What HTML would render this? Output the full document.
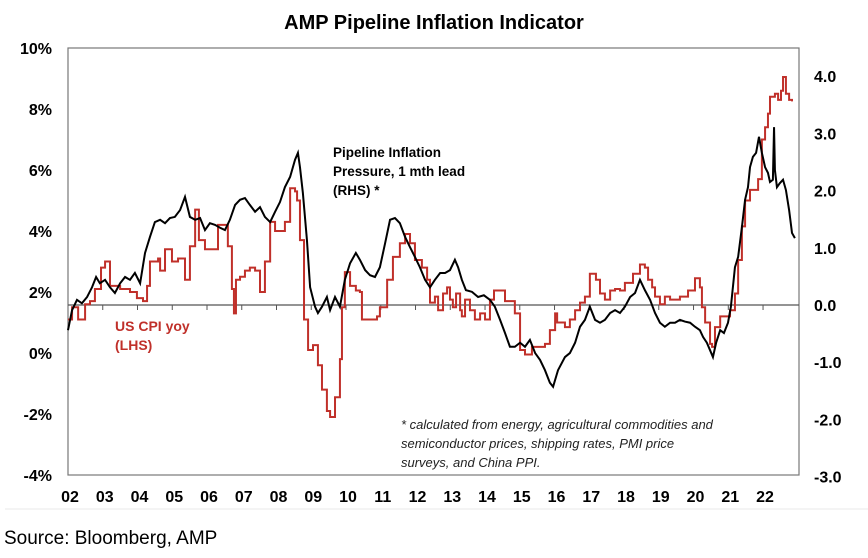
<!DOCTYPE html>
<html><head><meta charset="utf-8"><style>
body{margin:0;background:#fff;}
svg{display:block;font-family:"Liberation Sans",Arial,sans-serif;}
</style></head><body>
<svg id="chart" width="868" height="558" viewBox="0 0 868 558">
<text x="434" y="29" text-anchor="middle" font-size="20" font-weight="bold">AMP Pipeline Inflation Indicator</text>
<rect x="68" y="48" width="731" height="427" fill="none" stroke="#777" stroke-width="1.2"/>
<g id="axes"></g>
<g id="series"></g>
<text font-size="13.5" font-weight="bold"><tspan x="333" y="157">Pipeline Inflation</tspan><tspan x="333" y="176">Pressure, 1 mth lead</tspan><tspan x="333" y="195">(RHS) *</tspan></text>
<text font-size="14" font-weight="bold" fill="#c0302a"><tspan x="115" y="331">US CPI yoy</tspan><tspan x="115" y="350">(LHS)</tspan></text>
<text font-size="13" font-style="italic" fill="#222"><tspan x="401" y="429">* calculated from energy, agricultural commodities and</tspan><tspan x="401" y="448">semiconductor prices, shipping rates, PMI price</tspan><tspan x="401" y="467">surveys, and China PPI.</tspan></text>
<line x1="5" y1="509" x2="868" y2="509" stroke="#e8e8e8"/>
<text x="4" y="544" font-size="19">Source: Bloomberg, AMP</text>
</svg>
<script>
const leftTicks=[10,8,6,4,2,0,-2,-4];
const rightTicks=[4,3,2,1,0,-1,-2,-3];
const yearLabels=["02","03","04","05","06","07","08","09","10","11","12","13","14","15","16","17","18","19","20","21","22"];
// months since Jan 2002
const cpiMonths=[0,1.4,3.5,5.9,7.6,9.3,11.4,12.8,14.5,18,21.4,23.8,25.9,27.3,28.3,31.1,31.8,33.5,35.9,38,40.4,42.1,43.9,45.2,47.3,49.7,51.8,54.2,55.2,56.6,57.3,58,59.4,61.1,62.8,64.6,66.3,68,69.8,71.5,73.2,74.9,76.7,78.4,79.1,80.1,81.5,82.9,84.6,86.3,87.7,89.4,90.5,92.2,93.9,94.6,95.6,97.4,99.4,100.8,101.5,104.3,106.7,107.7,110.2,112.2,114.6,116.4,118.1,119.8,122.2,124,125,126.7,127.8,129.5,130.9,131.9,132.9,134,135.4,136,137.1,138.8,140.5,142.3,144,145.7,147.1,149.2,150.9,153.3,154.3,156.1,157.8,160.2,163,164.7,166.4,168.2,168.9,171.6,173.3,175.1,176.8,178.5,180.2,182.3,183.7,185.4,187.2,188.9,190.6,192.3,195.1,197.5,199.2,200.3,201.7,202.7,204.4,206.1,207.9,209.6,211.3,214.1,216.5,218.2,218.9,220,221.7,222.4,223.4,225.2,226.9,228.6,230.3,231.4,232.7,233.8,235.5,237.2,238.3,239.6,240.7,241.7,242.4,244.1,245.2,246.2,246.9,247.9,249,250];
const cpiValues=[1.1,1.5,1.1,1.6,1.7,2.1,2.8,3.0,2.2,2.1,2.0,1.8,1.7,2.2,3.0,3.1,2.7,3.4,3.0,3.1,2.4,3.5,4.7,3.7,3.4,3.4,4.2,4.2,3.5,2.1,1.3,2.4,2.5,2.7,2.8,2.7,2.0,3.0,4.3,4.0,4.0,4.3,5.4,5.3,5.0,3.7,1.1,0.1,0.26,-0.4,-1.2,-1.9,-2.1,-1.45,-0.2,1.5,2.65,2.2,2.05,2.0,1.1,1.1,1.2,1.5,2.4,3.15,3.6,3.9,3.6,3.05,2.8,2.4,1.65,1.85,1.4,1.95,2.15,1.75,1.5,1.95,1.4,1.2,1.75,1.4,1.1,1.3,1.1,1.75,2.05,2.05,1.7,1.7,1.3,0.1,-0.05,0.2,0.2,0.3,0.75,1.3,1.0,0.85,1.1,1.4,1.65,1.85,2.6,2.4,1.95,1.75,2.05,2.1,2.05,2.3,2.6,2.9,2.8,2.4,2.15,1.85,1.6,1.85,1.75,1.75,1.85,2.05,2.45,2.15,1.5,1.0,0.3,0.2,0.85,1.2,1.2,1.4,1.95,3.05,4.15,5.0,5.35,5.35,5.7,7.0,7.4,7.85,8.4,8.5,8.3,8.6,9.05,8.5,8.3,8.25];
const pipeMonths=[0,1.4,3.1,4.8,6.6,8.3,9.7,11,12.8,14.5,16.2,18,19.7,21.4,23.1,24.9,26.6,28.3,30,31.8,33.5,35.2,36.9,38.7,40.4,42.1,43.9,45.6,47.3,49,50.8,52.5,54.2,55.9,57.7,59.4,61.1,62.8,64.6,66.3,68,69.8,71.5,73.2,74.9,76.7,78.4,79.4,80.1,81.1,82.5,83.6,85.3,86.3,87.7,89.4,90.5,92.2,93.9,95.6,97.4,99.4,100.8,102.6,104.3,106,107.7,109.5,111.2,112.9,114.6,116.4,118.1,119.8,121.5,123.3,125,126.7,128.5,130.2,131.9,133.6,134.7,136,137.4,139.5,141.6,143.6,145.7,147.4,149.2,150.9,152.6,154.3,156.1,157.8,159.5,161.3,163,164.7,166.4,167.5,169.2,171.6,173.3,175.1,176.8,178.5,180.2,182,183.7,185.4,187.2,188.9,190.6,192.3,194.1,195.8,197.5,199.2,201,202.7,204.4,206.1,207.9,209.6,211.3,213,214.8,216.5,218.2,219.3,220.6,221.7,222.7,223.8,225.2,226.5,227.9,228.9,230.3,231.4,232.7,233.8,234.8,235.5,236.5,237.6,238.6,239.6,240.7,241.7,242.4,243.4,243.8,244.1,244.8,245.8,246.9,247.9,249,250,251];
const pipeValues=[-0.44,-0.09,0.09,0.03,0.14,0.31,0.49,0.38,0.44,0.31,0.21,0.38,0.49,0.44,0.56,0.38,0.91,1.19,1.45,1.49,1.43,1.52,1.54,1.66,1.89,1.54,1.49,1.52,1.31,1.43,1.40,1.35,1.31,1.49,1.75,1.84,1.87,1.75,1.63,1.71,1.54,1.45,1.63,1.80,2.06,2.24,2.54,2.66,2.41,1.96,1.14,0.31,-0.03,-0.14,-0.03,0.14,-0.09,0.14,-0.03,0.44,0.73,0.91,0.79,0.61,0.52,0.49,0.66,1.08,1.49,1.52,1.43,1.19,1.01,0.84,0.66,0.44,0.31,0.44,0.56,0.56,0.61,0.79,0.66,0.44,0.26,0.23,0.14,0.17,0.09,-0.03,-0.26,-0.49,-0.73,-0.73,-0.66,-0.73,-0.61,-0.84,-0.96,-1.14,-1.36,-1.43,-1.14,-0.91,-0.84,-0.66,-0.38,-0.26,-0.03,-0.26,-0.31,-0.26,-0.14,-0.09,-0.14,-0.03,0.14,0.21,0.44,0.26,0.09,-0.14,-0.31,-0.38,-0.31,-0.31,-0.26,-0.29,-0.31,-0.38,-0.44,-0.56,-0.66,-0.79,-0.91,-0.66,-0.44,-0.49,-0.31,-0.03,0.66,0.84,1.36,1.84,2.06,2.41,2.59,2.66,2.94,2.66,2.41,2.31,2.15,2.19,3.11,2.36,2.06,2.13,2.19,2.01,1.66,1.26,1.17];

const NS="http://www.w3.org/2000/svg";
const xS=m=>68+m*2.896;
const yL=v=>353-30.5*v;
const yR=v=>305-57.2*v;
const axes=document.getElementById('axes'),series=document.getElementById('series');
function mk(tag,attrs,parent){const e=document.createElementNS(NS,tag);for(const k in attrs)e.setAttribute(k,attrs[k]);parent.appendChild(e);return e;}
leftTicks.forEach(v=>{const t=mk('text',{x:52,y:yL(v)+6,'text-anchor':'end','font-size':16,'font-weight':'bold'},axes);


t.textContent=v+'%';});
rightTicks.forEach(v=>{const t=mk('text',{x:814,y:yR(v)+6,'font-size':16,'font-weight':'bold'},axes);


t.textContent=v.toFixed(1);});
const zl=mk('line',{x1:68,x2:799,y1:yR(0),y2:yR(0),stroke:'#555','stroke-width':1.2},axes);


yearLabels.forEach((lab,i)=>{const x=xS(i*12);
if(i>0){const tk=mk('line',{x1:x,x2:x,y1:yR(0),y2:yR(0)+5,stroke:'#555'},axes);

}
const t=mk('text',{x:x+2,y:502,'text-anchor':'middle','font-size':16,'font-weight':'bold'},axes);


t.textContent=lab;});
let d='';cpiMonths.forEach((m,i)=>{const x=xS(m),y=yL(cpiValues[i]);if(i===0)d='M'+x+','+y;else{d+=' H'+x+' V'+y;}});
const cpi=mk('path',{d:d,fill:'none',stroke:'#c0302a','stroke-width':2},series);


const pts=pipeMonths.map((m,i)=>xS(m)+','+yR(pipeValues[i])).join(' ');
const pipe=mk('polyline',{points:pts,fill:'none',stroke:'#000','stroke-width':2},series);


</script>
</body></html>
